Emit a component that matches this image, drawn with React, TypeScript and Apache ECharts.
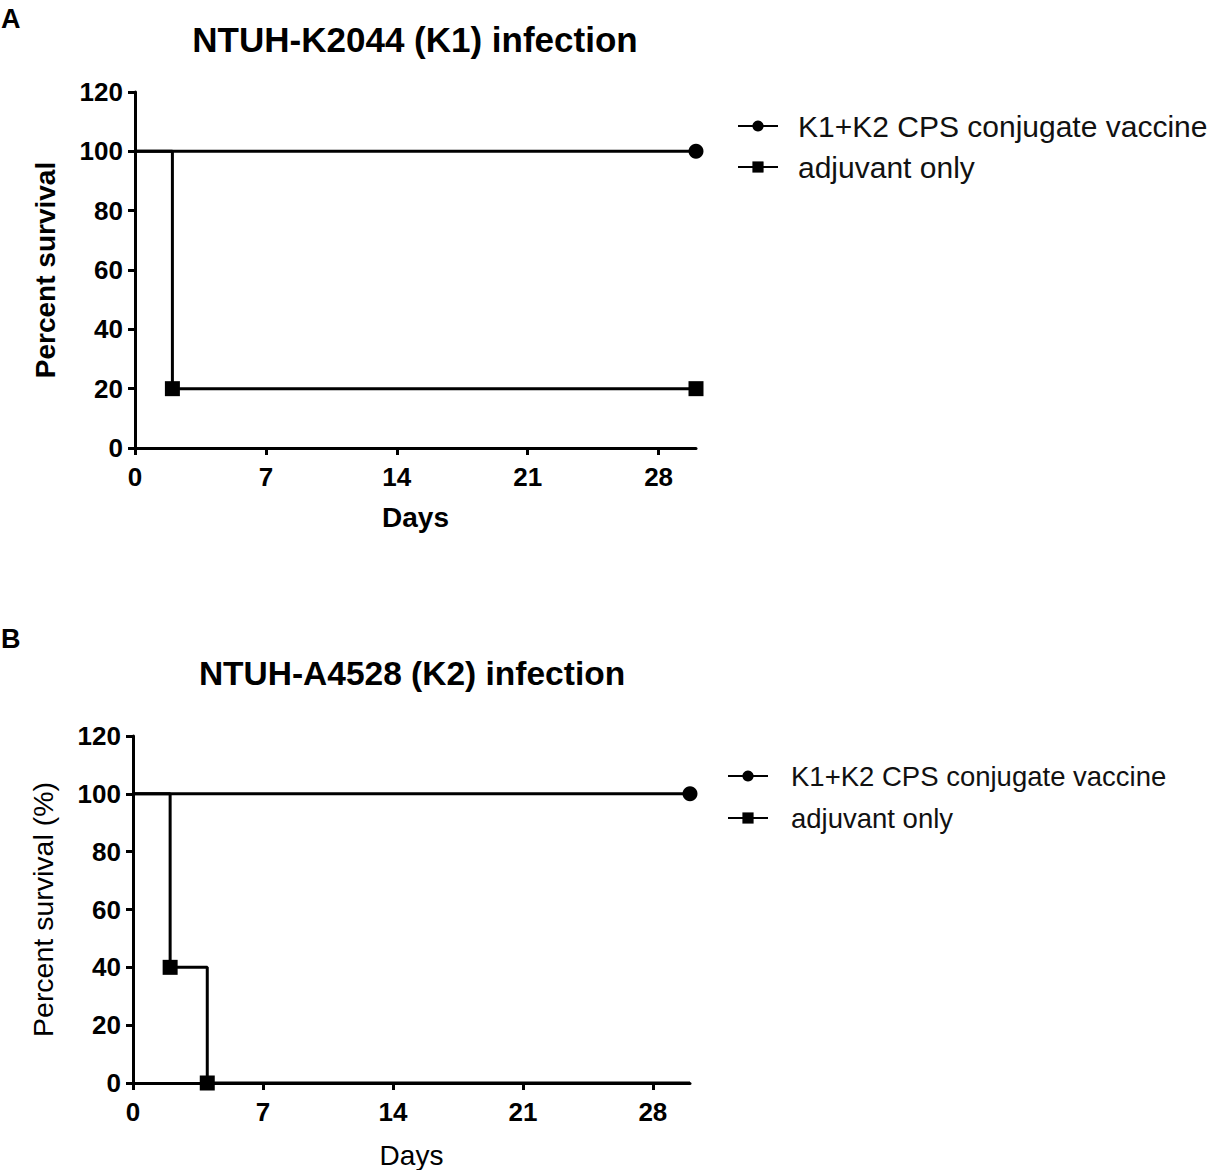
import React, { useEffect, useRef } from "react";
import * as echarts from "echarts";

const xTicks = [0, 7, 14, 21, 28];
const yTicks = [0, 20, 40, 60, 80, 100, 120];
const seriesNames = ["K1+K2 CPS conjugate vaccine", "adjuvant only"];

// Panel A: NTUH-K2044 (K1) infection — [day, percent survival, showMarker]
const vaccineA: [number, number, boolean][] = [
  [0, 100, false],
  [30, 100, true],
];
const adjuvantA: [number, number, boolean][] = [
  [0, 100, false],
  [2, 20, true],
  [30, 20, true],
];
// Panel B: NTUH-A4528 (K2) infection
const vaccineB: [number, number, boolean][] = [
  [0, 100, false],
  [30, 100, true],
];
const adjuvantB: [number, number, boolean][] = [
  [0, 100, false],
  [2, 40, true],
  [4, 0, true],
  [30, 0, false],
];

const FONT = "Liberation Sans, Arial, sans-serif";

function toData(arr: [number, number, boolean][]) {
  return arr.map(([x, y, m]) => (m ? { value: [x, y] } : { value: [x, y], symbol: "none" }));
}

export default function App() {
  const ref = useRef<HTMLDivElement>(null);
  useEffect(() => {
    document.body.style.margin = "0";
    const chart = echarts.init(ref.current!, undefined, { renderer: "svg" });
    const xAxis = (gridIndex: number, nameBold: boolean, nameGap: number) => ({
      type: "value",
      gridIndex,
      min: 0,
      max: 30,
      name: "Days",
      nameLocation: "middle",
      nameGap,
      nameTextStyle: { fontFamily: FONT, fontSize: 28, fontWeight: nameBold ? "bold" : "normal", color: "#000" },
      axisLine: { show: true, lineStyle: { color: "#000", width: 3 } },
      splitLine: { show: false },
      axisTick: { show: true, length: 7, lineStyle: { color: "#000", width: 3 }, customValues: xTicks },
      axisLabel: {
        customValues: xTicks,
        margin: 16,
        fontFamily: FONT,
        fontSize: 26,
        fontWeight: "bold",
        color: "#000",
      },
    });
    const yAxis = (gridIndex: number, name: string, nameBold: boolean, size: number) => ({
      type: "value",
      gridIndex,
      min: 0,
      max: 120,
      interval: 20,
      name,
      nameLocation: "middle",
      nameGap: 76,
      nameTextStyle: { fontFamily: FONT, fontSize: size, fontWeight: nameBold ? "bold" : "normal", color: "#000" },
      axisLine: { show: true, lineStyle: { color: "#000", width: 3 } },
      splitLine: { show: false },
      axisTick: { show: true, length: 7, lineStyle: { color: "#000", width: 3 } },
      axisLabel: {
        margin: 12,
        fontFamily: FONT,
        fontSize: 26,
        fontWeight: "bold",
        color: "#000",
      },
    });
    const lineSeries = (name: string, data: any, idx: number, symbol: string, size: number) => ({
      type: "line",
      name,
      xAxisIndex: idx,
      yAxisIndex: idx,
      step: "end",
      data,
      symbol,
      symbolSize: size,
      lineStyle: { color: "#000", width: 3 },
      itemStyle: { color: "#000" },
      z: 3,
    });
    chart.setOption({
      animation: false,
      backgroundColor: "#fff",
      title: [
        {
          text: "NTUH-K2044 (K1) infection",
          left: 410,
          top: 17,
          textAlign: "center",
          textStyle: { fontFamily: FONT, fontSize: 35, fontWeight: "bold", color: "#000" },
        },
        {
          text: "NTUH-A4528 (K2) infection",
          left: 407,
          top: 651,
          textAlign: "center",
          textStyle: { fontFamily: FONT, fontSize: 33.5, fontWeight: "bold", color: "#000" },
        },
      ],
      graphic: [
        { type: "text", left: 1, top: 5, style: { text: "A", fontFamily: FONT, fontSize: 27, fontWeight: "bold", fill: "#000" } },
        { type: "text", left: 1, top: 625, style: { text: "B", fontFamily: FONT, fontSize: 27, fontWeight: "bold", fill: "#000" } },
      ],
      legend: [
        {
          data: seriesNames,
          orient: "vertical",
          left: 737,
          top: 111,
          padding: 0,
          itemWidth: 40,
          itemHeight: 14,
          itemGap: 11,
          textStyle: { fontFamily: FONT, fontSize: 30, lineHeight: 30, color: "#111", padding: [0, 0, 0, 15] },
          selectedMode: false,
        },
        {
          data: seriesNames,
          orient: "vertical",
          left: 727,
          top: 761,
          padding: 0,
          itemWidth: 40,
          itemHeight: 14,
          itemGap: 12,
          textStyle: { fontFamily: FONT, fontSize: 27.5, lineHeight: 30, color: "#111", padding: [0, 0, 0, 18] },
          selectedMode: false,
        },
      ],
      grid: [
        { left: 135, top: 92, width: 561, height: 356 },
        { left: 133, top: 736, width: 557, height: 355 },
      ],
      xAxis: [xAxis(0, true, 55), xAxis(1, false, 58)],
      yAxis: [yAxis(0, "Percent survival", true, 28), yAxis(1, "Percent survival (%)", false, 28.5)],
      series: [
        lineSeries(seriesNames[0], toData(vaccineA), 0, "circle", 15),
        lineSeries(seriesNames[1], toData(adjuvantA), 0, "rect", 15),
        lineSeries(seriesNames[0], toData(vaccineB), 1, "circle", 15),
        lineSeries(seriesNames[1], toData(adjuvantB), 1, "rect", 15),
      ],
    });
    return () => chart.dispose();
  }, []);
  return <div ref={ref} style={{ width: 1217, height: 1170 }} />;
}
